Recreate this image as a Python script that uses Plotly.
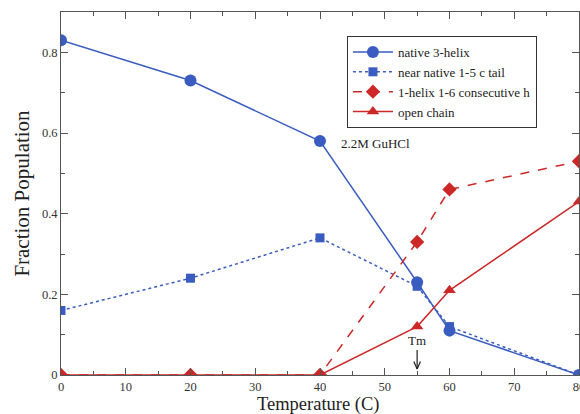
import plotly.graph_objects as go

temps = [0, 20, 40, 55, 60, 80]
native = [0.83, 0.73, 0.58, 0.23, 0.11, 0.0]
near_native = [0.16, 0.24, 0.34, 0.22, 0.12, 0.0]
one_helix = [0.0, 0.0, 0.0, 0.33, 0.46, 0.53]
open_chain = [0.0, 0.0, 0.0, 0.12, 0.21, 0.43]

names = ["native 3-helix", "near native 1-5 c tail", "1-helix 1-6 consecutive h", "open chain"]

BLUE = "#3a5cc0"
RED = "#cc2828"
FONT = "Liberation Serif"

fig = go.Figure()
fig.add_trace(go.Scatter(x=temps, y=native, name=names[0], mode="lines+markers",
                         line=dict(color=BLUE, width=1.5, dash="solid"),
                         marker=dict(symbol="circle", size=12, color=BLUE)))
fig.add_trace(go.Scatter(x=temps, y=near_native, name=names[1], mode="lines+markers",
                         line=dict(color=BLUE, width=1.5, dash="dot"),
                         marker=dict(symbol="square", size=9, color=BLUE)))
fig.add_trace(go.Scatter(x=temps, y=one_helix, name=names[2], mode="lines+markers",
                         line=dict(color=RED, width=1.5, dash="dash"),
                         marker=dict(symbol="diamond", size=11, color=RED)))
fig.add_trace(go.Scatter(x=temps, y=open_chain, name=names[3], mode="lines+markers",
                         line=dict(color=RED, width=1.5, dash="solid"),
                         marker=dict(symbol="triangle-up", size=11, color=RED)))

axis_common = dict(showgrid=False, zeroline=False, showline=True, linecolor="#555555",
                   linewidth=1, mirror="allticks", ticks="inside", ticklen=7,
                   tickcolor="#555555", tickfont=dict(family=FONT, size=12.5, color="#333333"),
                   automargin=False, ticklabeloverflow="allow")

fig.update_xaxes(range=[0, 80], tickmode="linear", tick0=0, dtick=10,
                 minor=dict(dtick=5, ticks="inside", ticklen=4, tickcolor="#555555"),
                 **axis_common)
fig.update_yaxes(range=[0, 0.9], tickmode="array", tickvals=[0, 0.2, 0.4, 0.6, 0.8],
                 ticktext=["0", "0.2", "0.4", "0.6", "0.8"],
                 minor=dict(tickvals=[0.1, 0.3, 0.5, 0.7, 0.9], ticks="inside", ticklen=4, tickcolor="#555555"),
                 title=dict(text="Fraction Population", font=dict(family=FONT, size=21, color="#222222"),
                            standoff=6),
                 **axis_common)

# x-axis title placed as a paper annotation so it hugs the bottom edge
fig.add_annotation(x=0.497, y=-0.1135, xref="paper", yref="paper", text="Temperature (C)",
                   showarrow=False, xanchor="center", yanchor="bottom", borderpad=0,
                   font=dict(family=FONT, size=18.5, color="#222222"))

fig.add_annotation(x=43, y=0.573, text="2.2M GuHCl", showarrow=False, xanchor="left",
                   font=dict(family=FONT, size=13, color="#222222"))
fig.add_annotation(x=55, y=0.015, text="Tm", showarrow=True, arrowhead=0, arrowwidth=1.2,
                   arrowcolor="#222222", ax=0, ay=-19, yanchor="bottom",
                   font=dict(family=FONT, size=13, color="#222222"))
fig.add_annotation(x=55, y=0.015, text="", showarrow=True, arrowhead=0, arrowwidth=1.2,
                   arrowcolor="#222222", ax=-4, ay=-9)
fig.add_annotation(x=55, y=0.015, text="", showarrow=True, arrowhead=0, arrowwidth=1.2,
                   arrowcolor="#222222", ax=4, ay=-9)

fig.update_layout(
    width=580, height=414,
    margin=dict(l=61, r=1, t=12, b=39),
    paper_bgcolor="white", plot_bgcolor="white",
    showlegend=True,
    legend=dict(x=0.552, y=0.934, xanchor="left", yanchor="top",
                bgcolor="white", bordercolor="#333333", borderwidth=1,
                font=dict(family=FONT, size=13, color="#222222"),
                tracegroupgap=0, itemwidth=40),
)

fig.write_html("out.html")
